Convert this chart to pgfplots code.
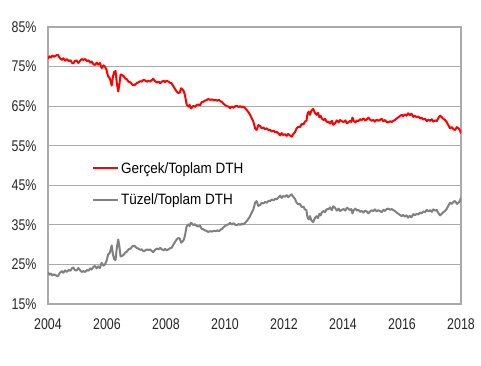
\documentclass[border=0pt]{standalone}
\usepackage{fontspec}
\setmainfont{Liberation Sans}
\newfontfamily\tickfont{Liberation Sans}[FakeStretch=0.8]
\newfontfamily\legfont{Liberation Sans}[FakeStretch=0.9]
\usepackage{pgfplots}
\usepackage{pgfplotstable}
\pgfplotsset{compat=1.18}
\pgfplotstableread{
year r g
2004.00 77.0 23.0
2004.05 77.6 22.4
2004.10 77.3 22.7
2004.15 77.8 22.2
2004.20 77.5 22.5
2004.25 77.7 22.3
2004.33 78.0 22.0
2004.38 77.4 22.6
2004.42 77.0 23.0
2004.47 76.7 23.3
2004.52 77.1 22.9
2004.58 76.5 23.5
2004.64 76.9 23.1
2004.70 76.4 23.6
2004.76 76.6 23.4
2004.82 75.9 24.1
2004.86 75.8 24.2
2004.92 76.5 23.5
2004.97 76.5 23.5
2005.03 75.9 24.1
2005.08 76.4 23.6
2005.14 76.9 23.1
2005.20 76.7 23.3
2005.26 76.9 23.1
2005.32 76.4 23.6
2005.37 76.6 23.4
2005.43 76.0 24.0
2005.48 76.3 23.7
2005.54 75.6 24.4
2005.59 75.4 24.6
2005.65 76.0 24.0
2005.70 75.5 24.5
2005.76 75.9 24.1
2005.82 74.6 25.4
2005.88 75.3 24.7
2005.93 75.0 25.0
2005.98 74.2 25.8
2006.04 72.5 27.5
2006.10 72.0 28.0
2006.16 70.2 29.8
2006.20 72.4 27.6
2006.24 73.6 26.4
2006.29 73.9 26.1
2006.33 71.0 29.0
2006.38 68.7 31.3
2006.42 70.5 29.5
2006.46 73.0 27.0
2006.50 72.9 27.1
2006.56 72.6 27.4
2006.62 72.0 28.0
2006.67 71.8 28.2
2006.73 71.2 28.8
2006.80 71.0 29.0
2006.86 70.4 29.6
2006.93 70.3 29.7
2007.00 70.8 29.2
2007.06 71.0 29.0
2007.12 71.3 28.7
2007.18 71.2 28.8
2007.24 71.7 28.3
2007.29 71.5 28.5
2007.35 71.2 28.8
2007.41 71.4 28.6
2007.46 71.2 28.8
2007.52 71.6 28.4
2007.57 71.9 28.1
2007.63 71.3 28.7
2007.69 71.0 29.0
2007.75 71.2 28.8
2007.80 70.8 29.2
2007.86 71.2 28.8
2007.92 71.4 28.6
2007.97 71.1 28.9
2008.02 71.4 28.6
2008.08 71.2 28.8
2008.14 70.9 29.1
2008.19 70.8 29.2
2008.25 70.0 30.0
2008.30 69.4 30.6
2008.36 68.7 31.3
2008.42 68.3 31.7
2008.47 68.5 31.5
2008.51 69.5 30.5
2008.55 69.3 30.7
2008.60 68.8 31.2
2008.64 67.8 32.2
2008.70 65.4 34.6
2008.76 64.9 35.1
2008.80 65.3 34.7
2008.84 64.5 35.5
2008.87 64.6 35.4
2008.93 65.1 34.9
2008.98 64.8 35.2
2009.04 65.3 34.7
2009.10 65.4 34.6
2009.15 65.2 34.8
2009.21 66.0 34.0
2009.26 66.1 33.9
2009.32 66.4 33.6
2009.37 66.5 33.5
2009.43 66.8 33.2
2009.50 66.6 33.4
2009.56 66.7 33.3
2009.62 66.5 33.5
2009.68 66.6 33.4
2009.74 66.4 33.6
2009.80 66.6 33.4
2009.85 66.2 33.8
2009.89 66.1 33.9
2009.95 65.6 34.4
2010.00 65.3 34.7
2010.06 65.0 35.0
2010.12 64.9 35.1
2010.17 64.5 35.5
2010.23 64.9 35.1
2010.29 64.6 35.4
2010.35 65.0 35.0
2010.40 65.1 34.9
2010.46 64.8 35.2
2010.52 65.0 35.0
2010.57 64.7 35.3
2010.62 64.9 35.1
2010.68 64.5 35.5
2010.74 64.0 36.0
2010.80 63.4 36.6
2010.85 62.8 37.2
2010.90 62.0 38.0
2010.96 61.1 38.9
2011.02 59.4 40.6
2011.07 59.0 41.0
2011.13 60.2 39.8
2011.19 60.0 40.0
2011.24 59.4 40.6
2011.30 59.6 40.4
2011.36 59.2 40.8
2011.42 59.4 40.6
2011.48 58.9 41.1
2011.53 59.0 41.0
2011.59 58.6 41.4
2011.65 58.8 41.2
2011.70 58.4 41.6
2011.76 58.5 41.5
2011.81 58.1 41.9
2011.87 57.6 42.4
2011.92 58.2 41.8
2011.97 57.7 42.3
2012.03 57.9 42.1
2012.09 57.5 42.5
2012.14 58.0 42.0
2012.20 57.6 42.4
2012.26 57.3 42.7
2012.31 57.9 42.1
2012.37 58.4 41.6
2012.42 59.3 40.7
2012.48 59.8 40.2
2012.54 59.7 40.3
2012.60 60.5 39.5
2012.66 60.4 39.6
2012.71 61.1 38.9
2012.76 61.3 38.7
2012.80 63.2 36.8
2012.84 63.6 36.4
2012.88 62.8 37.2
2012.93 63.9 36.1
2012.99 64.3 35.7
2013.04 63.4 36.6
2013.10 62.8 37.2
2013.15 63.3 36.7
2013.20 62.2 37.8
2013.24 62.6 37.4
2013.28 61.9 38.1
2013.34 61.5 38.5
2013.39 61.8 38.2
2013.45 61.0 39.0
2013.50 61.1 38.9
2013.56 60.6 39.4
2013.62 61.3 38.7
2013.67 60.3 39.7
2013.73 60.7 39.3
2013.79 61.4 38.6
2013.85 60.9 39.1
2013.90 61.5 38.5
2013.96 61.2 38.8
2014.02 61.0 39.0
2014.08 61.4 38.6
2014.13 60.7 39.3
2014.18 60.9 39.1
2014.24 61.3 38.7
2014.28 61.0 39.0
2014.32 62.1 37.9
2014.37 61.2 38.8
2014.42 60.9 39.1
2014.47 61.4 38.6
2014.52 61.2 38.8
2014.58 61.7 38.3
2014.63 61.5 38.5
2014.69 61.9 38.1
2014.75 61.4 38.6
2014.80 61.6 38.4
2014.86 62.1 37.9
2014.92 61.6 38.4
2014.97 61.3 38.7
2015.03 61.5 38.5
2015.08 61.1 38.9
2015.14 61.6 38.4
2015.20 61.3 38.7
2015.25 61.5 38.5
2015.31 61.8 38.2
2015.37 61.2 38.8
2015.42 61.5 38.5
2015.48 61.0 39.0
2015.54 60.9 39.1
2015.60 61.2 38.8
2015.65 61.0 39.0
2015.71 61.3 38.7
2015.76 61.5 38.5
2015.82 61.9 38.1
2015.88 62.2 37.8
2015.93 62.5 37.5
2015.99 62.8 37.2
2016.04 62.5 37.5
2016.10 62.9 37.1
2016.15 62.6 37.4
2016.21 63.2 36.8
2016.26 62.7 37.3
2016.32 63.1 36.9
2016.38 62.3 37.7
2016.43 62.6 37.4
2016.49 62.2 37.8
2016.55 62.4 37.6
2016.61 61.9 38.1
2016.67 62.1 37.9
2016.72 61.6 38.4
2016.78 61.8 38.2
2016.84 61.2 38.8
2016.90 61.6 38.4
2016.95 61.3 38.7
2017.01 61.7 38.3
2017.06 61.1 38.9
2017.12 61.4 38.6
2017.18 61.2 38.8
2017.23 62.0 38.0
2017.29 62.6 37.4
2017.35 62.2 37.8
2017.40 61.8 38.2
2017.46 61.5 38.5
2017.52 60.9 39.1
2017.57 60.2 39.8
2017.63 59.4 40.6
2017.69 59.7 40.3
2017.75 59.1 40.9
2017.80 59.0 41.0
2017.86 59.7 40.3
2017.92 59.4 40.6
2017.97 58.8 41.2
2018.00 58.1 41.9
}\data
\definecolor{gline}{RGB}{128,128,128}
\definecolor{gridc}{RGB}{170,170,170}
\begin{document}
\begin{tikzpicture}
\useasboundingbox (-48bp,-62bp) rectangle (433bp,304bp);
\begin{axis}[
  at={(0,0)}, anchor=south west,
  scale only axis, width=413bp, height=277bp,
  xmin=2004, xmax=2018, ymin=15, ymax=85,
  xtick={2004,2006,...,2018}, ytick={15,25,...,85},
  /pgf/number format/assume math mode=true,
  /pgf/number format/1000 sep={},
  yticklabel={\pgfmathprintnumber{\tick}\%},
  ticklabel style={font=\tickfont\fontsize{15.5bp}{17bp}\selectfont, text=black!85},
  xticklabel style={yshift=-11bp},
  yticklabel style={xshift=-8bp},
  major tick length=0pt,
  tick style={draw=none},
  ymajorgrids,
  grid style={gridc, line width=1.1bp},
  axis line style={gridc, line width=1.4bp},
  legend cell align=left,
  legend style={at={(0.1065,0.52)}, anchor=north west, draw=none, fill=none,
    font=\legfont\fontsize{15bp}{17bp}\selectfont, row sep=15bp, inner sep=0pt},
  legend image code/.code={\draw[#1, line width=2bp] (0bp,0bp) -- (25bp,0bp);},
]
\addplot[red, line width=2bp, line join=round] table[x=year, y=r] {\data};
\addlegendentry{Gerçek/Toplam DTH}
\addplot[gline, line width=2bp, line join=round] table[x=year, y=g] {\data};
\addlegendentry{Tüzel/Toplam DTH}
\end{axis}
\end{tikzpicture}
\end{document}
